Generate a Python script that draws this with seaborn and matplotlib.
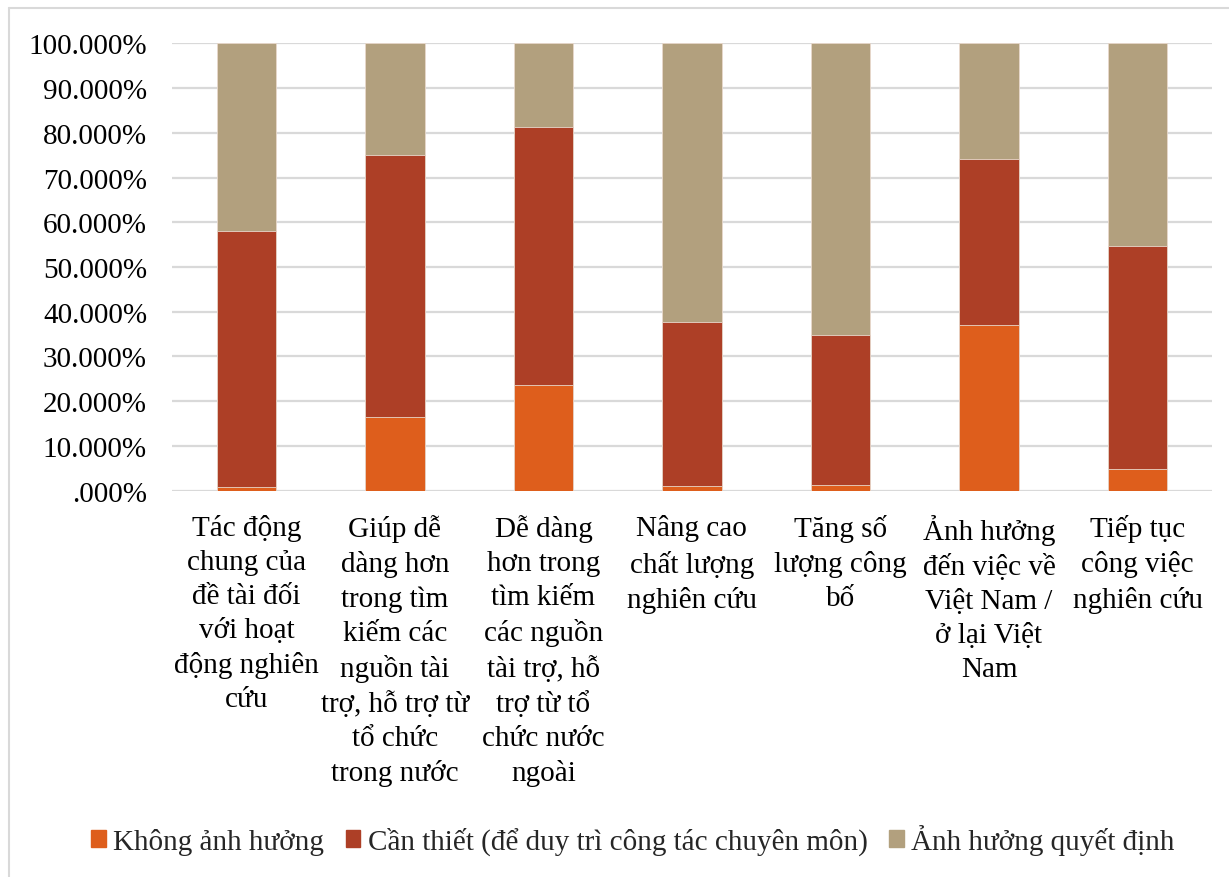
import numpy as np
import pandas as pd
import matplotlib
matplotlib.use("Agg")
import matplotlib.pyplot as plt
from matplotlib.ticker import FuncFormatter
from matplotlib.patches import Rectangle
from matplotlib.lines import Line2D
import seaborn as sns

categories = [
    "Tác động\nchung của\nđề tài đối\nvới hoạt\nđộng nghiên\ncứu",
    "Giúp dễ\ndàng hơn\ntrong tìm\nkiếm các\nnguồn tài\ntrợ, hỗ trợ từ\ntổ chức\ntrong nước",
    "Dễ dàng\nhơn trong\ntìm kiếm\ncác nguồn\ntài trợ, hỗ\ntrợ từ tổ\nchức nước\nngoài",
    "Nâng cao\nchất lượng\nnghiên cứu",
    "Tăng số\nlượng công\nbố",
    "Ảnh hưởng\nđến việc về\nViệt Nam /\nở lại Việt\nNam",
    "Tiếp tục\ncông việc\nnghiên cứu",
]
series_names = [
    "Không ảnh hưởng",
    "Cần thiết (để duy trì công tác chuyên môn)",
    "Ảnh hưởng quyết định",
]
khong_anh_huong = [0.8, 16.4, 23.6, 1.0, 1.3, 37.0, 4.8]
can_thiet = [57.3, 58.6, 57.8, 36.7, 33.5, 37.1, 49.9]
quyet_dinh = [41.9, 25.0, 18.6, 62.3, 65.2, 25.9, 45.3]
yticks = [0, 10, 20, 30, 40, 50, 60, 70, 80, 90, 100]

colors = ["#DE5E1C", "#AD3F26", "#B2A07E"]

sns.set_theme(style="white")
plt.rcParams["font.family"] = ["Liberation Serif", "DejaVu Serif"]

# cumulative tops for the stacked segments (drawn back to front)
s1 = np.array(khong_anh_huong)
s2 = s1 + np.array(can_thiet)
s3 = s2 + np.array(quyet_dinh)
df = pd.DataFrame({"cat": categories, "s1": s1, "s2": s2, "s3": s3})

fig = plt.figure(figsize=(12.29, 8.78), dpi=100)
ax = fig.add_axes([0.14, 0.44, 0.846, 0.5095])

for col, c in zip(["s3", "s2", "s1"], colors[::-1]):
    sns.barplot(data=df, x="cat", y=col, color=c, width=0.4, ax=ax,
                edgecolor="#E8D8CC", linewidth=0.6, saturation=1, zorder=3)

ax.set_ylim(0, 100)
ax.set_xlim(-0.5, len(categories) - 0.5)
ax.set_yticks(yticks)
ax.yaxis.set_major_formatter(FuncFormatter(
    lambda v, p: ("%.3f%%" % v).lstrip("0") if v == 0 else "%.3f%%" % v))
ax.grid(axis="y", color="#D9D9D9", linewidth=1.6, zorder=0)
ax.set_axisbelow(True)
for sp in ax.spines.values():
    sp.set_visible(False)
ax.set_xlabel("")
ax.set_ylabel("")
ax.tick_params(axis="y", labelsize=21, pad=18, length=0, labelcolor="black")
ax.tick_params(axis="x", labelsize=21, pad=17, length=0, labelcolor="black")
for lab in ax.get_xticklabels():
    lab.set_linespacing(1.39)
    lab.set_verticalalignment("top")

handles = [Rectangle((0, 0), 1, 1, color=c) for c in colors]
fig.legend(handles, series_names, loc="center", bbox_to_anchor=(0.515, 0.043),
           ncol=3, frameon=False, fontsize=21, handlelength=0.5,
           handleheight=0.5, handletextpad=0.25, columnspacing=0.75)

# chart-area frame: top and left edges
fig.add_artist(Line2D([0.0075, 1.0], [0.9895, 0.9895], transform=fig.transFigure,
                      color="#D9D9D9", linewidth=1.5))
fig.add_artist(Line2D([0.0075, 0.0075], [0.0, 0.9895], transform=fig.transFigure,
                      color="#D9D9D9", linewidth=1.5))

fig.savefig("out.png", dpi=100)
